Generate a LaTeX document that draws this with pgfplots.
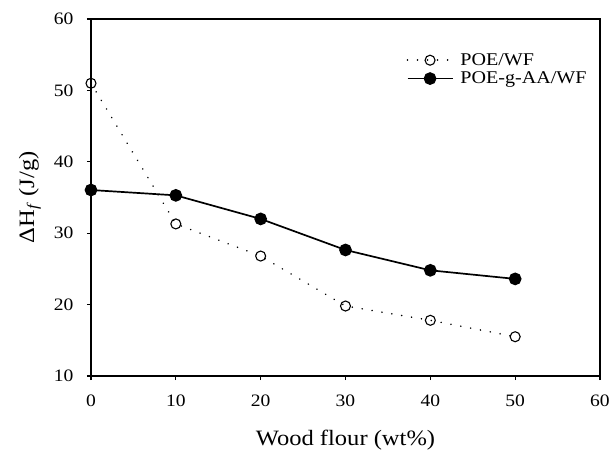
\documentclass[border=0pt]{standalone}
\usepackage{fontspec}
\setmainfont[FakeStretch=1.12]{Liberation Serif}
\usepackage{pgfplots}
\pgfplotsset{compat=1.18}
\begin{document}
\begin{tikzpicture}
\begin{axis}[
  scale only axis, width=509bp, height=357bp,
  at={(0,0)}, anchor=south west,
  xmin=0, xmax=60, ymin=10, ymax=60,
  xtick={0,10,...,60}, ytick={10,20,...,60},
  axis line style={line width=1.3bp},
  every tick/.style={line width=1.1bp, black},
  major tick length=4bp,
  tick align=outside, xtick pos=bottom, ytick pos=left,
  /pgf/number format/assume math mode=true,
  tick label style={font=\fontsize{17.5}{20}\selectfont},
  xticklabel style={yshift=-11bp},
  yticklabel style={xshift=-10bp},
  xlabel={Wood flour (wt\%)},
  ylabel={ΔH\textsubscript{\textit{f}} (J/g)},
  label style={font=\fontsize{22}{26}\selectfont},
  xlabel style={at={(axis description cs:0.5,-0.18)}, anchor=center},
  ylabel style={at={(axis description cs:-0.12,0.5)}, anchor=center},
  legend style={draw=none, fill=none, at={(0.614,0.915)}, anchor=north west,
    font=\fontsize{18}{21}\selectfont, row sep=1bp,
    /tikz/every odd column/.append style={column sep=5bp}},
  legend cell align=left,
  legend image code/.code={\draw[mark repeat=2, mark phase=2, #1] plot coordinates {(0bp,0bp)(22.5bp,0bp)(45bp,0bp)};},
]
\addplot[black, line width=1.7bp, line cap=round, dash pattern=on 0.01bp off 10bp,
  mark=o, mark size=5bp, mark options={solid, line width=1.1bp, fill=white}]
  coordinates {(0,51.0) (10,31.3) (20,26.8) (30,19.8) (40,17.8) (50,15.5)};
\addlegendentry{POE/WF}
\addplot[black, line width=1.7bp,
  mark=*, mark size=5.5bp, mark options={solid, fill=black}]
  coordinates {(0,36.05) (10,35.3) (20,32.0) (30,27.65) (40,24.8) (50,23.6)};
\addlegendentry{POE-g-AA/WF}
\end{axis}
\pgfresetboundingbox
\path (-91bp,-77bp) rectangle (521bp,376bp);
\end{tikzpicture}
\end{document}
